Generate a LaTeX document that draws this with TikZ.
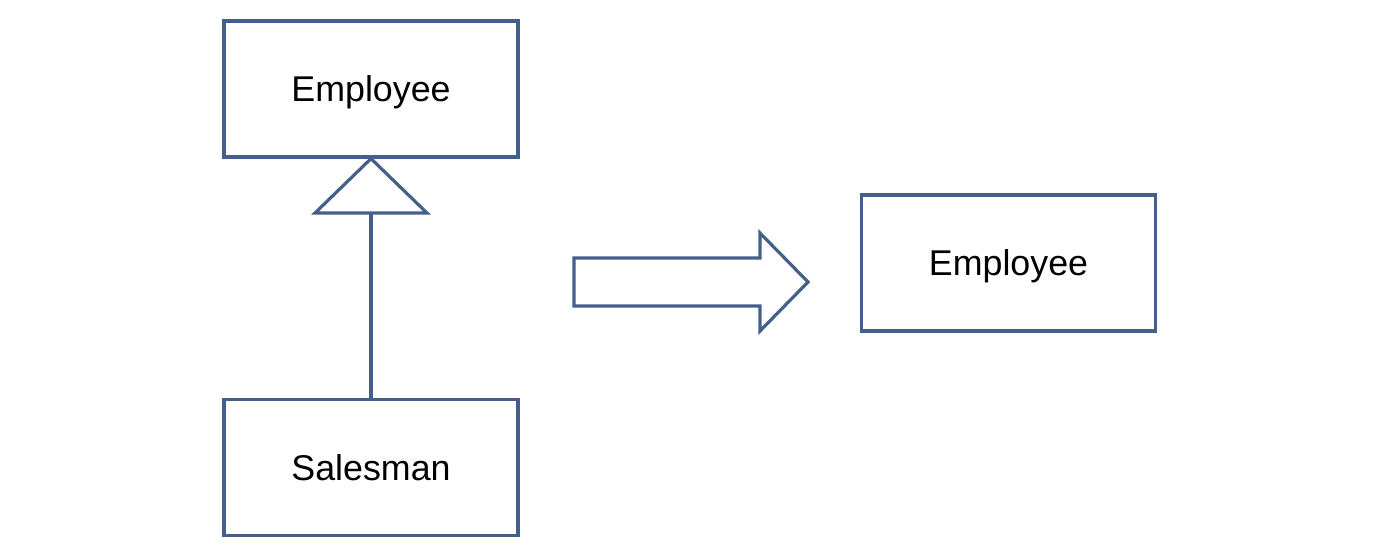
\documentclass[tikz,border=0pt]{standalone}
\usepackage{fontspec}
\setmainfont{Liberation Sans}
\definecolor{umlblue}{RGB}{68,96,138}
\begin{document}
\begin{tikzpicture}[x=0.5pt,y=-0.5pt,
  umlbox/.style={draw=umlblue,line width=1.6pt,fill=white,minimum width=147pt,minimum height=68pt,inner sep=0pt,
    text depth=0pt,font=\fontsize{17.9}{21}\selectfont},
  conn/.style={draw=umlblue,line width=1.6pt,line join=miter}]
\useasboundingbox (0,0) rectangle (1386,554);
\node[umlbox] (emp) at (371,89) {Employee};
\node[umlbox] (sal) at (371,467.5) {Salesman};
\node[umlbox] (emp2) at (1008.5,263) {Employee};
\coordinate (tb) at (371,213);
\draw[conn] (emp.south) -- (427,213) -- (315,213) -- cycle;
\draw[conn] (tb) -- (sal.north);
\draw[conn] (574,258) -- (760,258) -- (760,233) -- (808,282) -- (760,331) -- (760,306) -- (574,306) -- cycle;
\end{tikzpicture}
\end{document}
